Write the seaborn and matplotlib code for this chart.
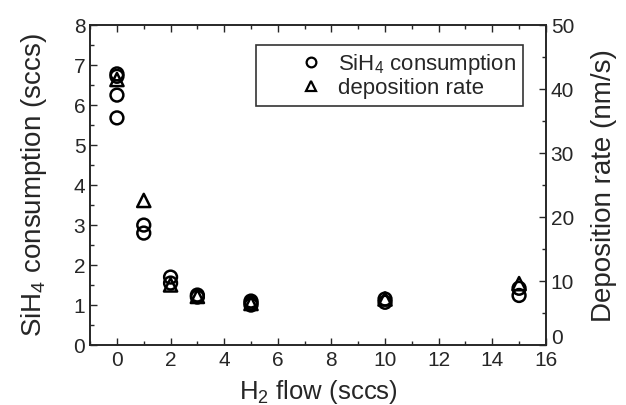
import numpy as np
import pandas as pd
import matplotlib
matplotlib.use("Agg")
import matplotlib.pyplot as plt
from matplotlib.ticker import MultipleLocator
from matplotlib.lines import Line2D
from matplotlib.transforms import ScaledTranslation
import seaborn as sns

# SiH4 consumption (sccs), several runs per H2 flow
sih4_flow = [0, 0, 0, 0, 1, 1, 2, 2, 3, 3, 5, 5, 5, 10, 10, 15, 15]
sih4_cons = [6.78, 6.72, 6.25, 5.68, 3.0, 2.8, 1.7, 1.55, 1.25, 1.2,
             1.1, 1.05, 1.0, 1.15, 1.07, 1.42, 1.24]
# deposition rate (nm/s)
dep_flow = [0, 1, 2, 3, 5, 10, 15]
dep_rate = [41.5, 22.6, 9.4, 7.6, 6.5, 7.2, 9.6]

sns.set_style("ticks")
plt.rcParams['font.family'] = ['Liberation Sans', 'DejaVu Sans']
plt.rcParams['mathtext.fontset'] = 'custom'
plt.rcParams['mathtext.rm'] = 'Liberation Sans'

df1 = pd.DataFrame({"flow": sih4_flow, "cons": sih4_cons})
df2 = pd.DataFrame({"flow": dep_flow, "rate": dep_rate})

fig = plt.figure(figsize=(6.26, 4.05), dpi=100)
ax = fig.add_axes([0.144, 0.148, 0.728, 0.79])
ax2 = ax.twinx()

sns.scatterplot(data=df1, x="flow", y="cons", ax=ax, marker="o", s=85,
                facecolor="none", edgecolor="black", linewidth=1.8, legend=False)
sns.scatterplot(data=df2, x="flow", y="rate", ax=ax2, marker="^", s=90,
                facecolor="none", edgecolor="black", linewidth=1.8, legend=False)

ax.set_xlim(-1, 16)
ax.set_ylim(0, 8)
ax2.set_ylim(0, 50)
ax.xaxis.set_major_locator(MultipleLocator(2))
ax.xaxis.set_minor_locator(MultipleLocator(1))
ax.yaxis.set_major_locator(MultipleLocator(1))
ax.yaxis.set_minor_locator(MultipleLocator(0.5))
ax2.yaxis.set_major_locator(MultipleLocator(10))
ax2.yaxis.set_minor_locator(MultipleLocator(5))

ax.tick_params(axis="x", which="both", direction="in", top=True, labelsize=15, pad=4)
ax.tick_params(axis="y", which="both", direction="in", right=False, labelsize=15)
ax2.tick_params(axis="y", which="both", direction="in", labelsize=15)
for a in (ax, ax2):
    a.tick_params(which="major", length=5, width=1)
    a.tick_params(which="minor", length=3, width=1)
    for sp in a.spines.values():
        sp.set_visible(True)
        sp.set_linewidth(1.2)

ax.set_xlabel("H$_2$ flow (sccs)", fontsize=18.5, labelpad=6)
ax.set_ylabel("SiH$_4$ consumption (sccs)", fontsize=20, labelpad=18)
ax2.set_ylabel("Deposition rate (nm/s)", fontsize=20, labelpad=12)

handles = [
    Line2D([], [], marker="o", linestyle="none", markerfacecolor="none",
           markeredgecolor="black", markersize=7, markeredgewidth=1.6),
    Line2D([], [], marker="^", linestyle="none", markerfacecolor="none",
           markeredgecolor="black", markersize=7, markeredgewidth=1.6),
]
leg = ax2.legend(handles, ["SiH$_4$ consumption", "deposition rate"],
                 loc="upper right", bbox_to_anchor=(0.95, 0.9375), fontsize=16,
                 frameon=True, fancybox=False, edgecolor="black",
                 handletextpad=-0.96, borderpad=0.3, labelspacing=0.05,
                 handlelength=4.35, borderaxespad=0)
leg.get_frame().set_linewidth(1.2)

# raise the right-hand "0" a little so it clears the "16"
fig.canvas.draw()
for t in ax2.yaxis.get_major_ticks():
    if abs(t.get_loc()) < 1e-9:
        t.label2.set_transform(t.label2.get_transform()
                               + ScaledTranslation(0, 6 / 72, fig.dpi_scale_trans))

fig.savefig("out.png", dpi=100)
